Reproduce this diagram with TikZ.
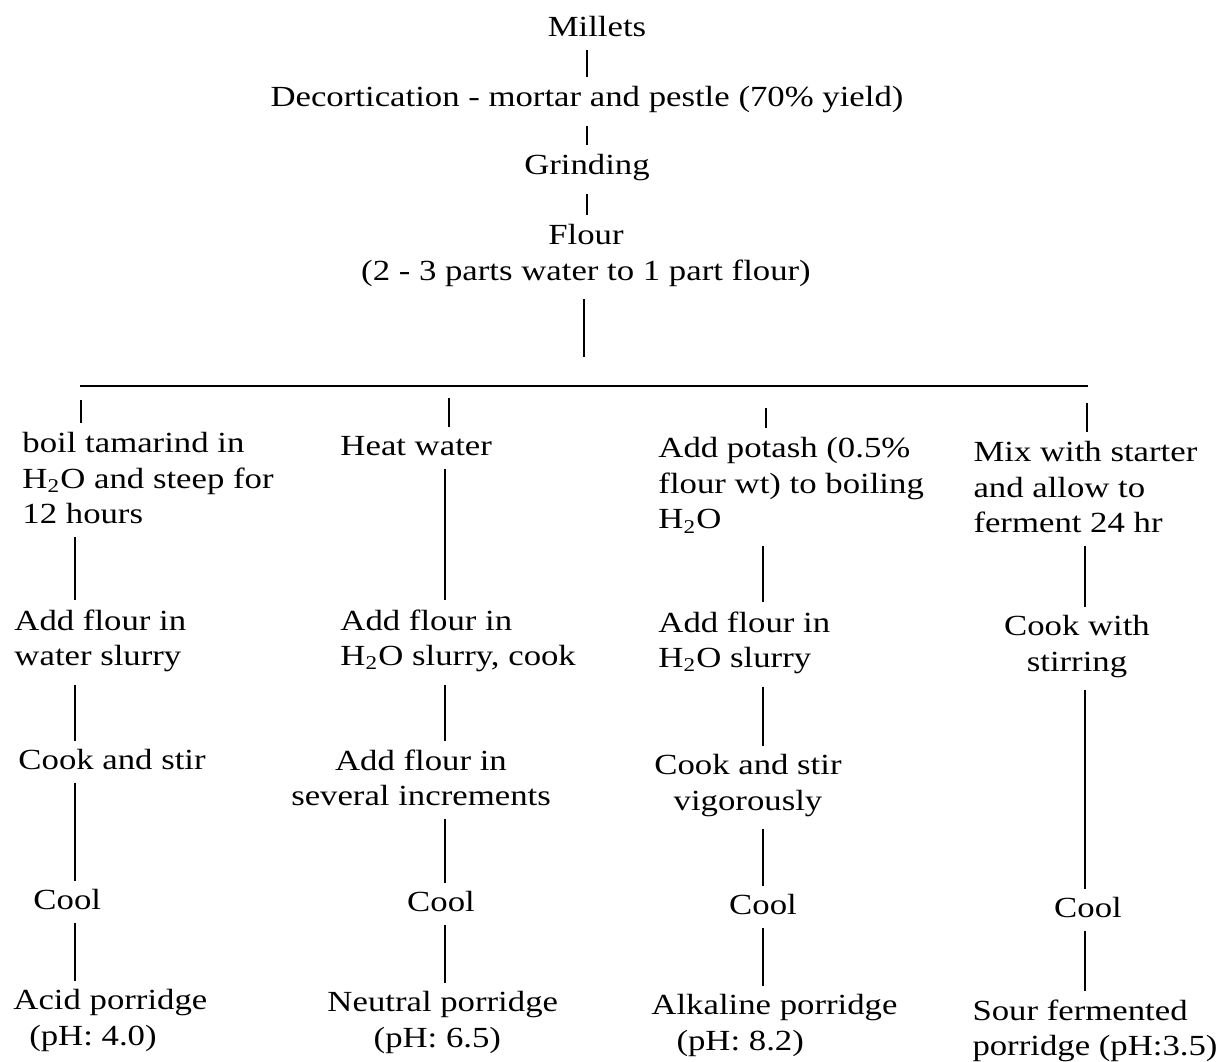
\documentclass[tikz,border=0pt]{standalone}
\usepackage{fontspec}
\setmainfont[FakeStretch=1.19]{Liberation Serif}
\newcommand{\hto}{H\textsubscript{2}O}

\begin{document}
\begin{tikzpicture}[x=0.411pt,y=-0.411pt,
  txt/.style={inner sep=0pt, font=\fontsize{12}{14.6}\selectfont},
  link/.style={line width=0.8pt, shorten <=5pt, shorten >=3.5pt}]
  \useasboundingbox (0,0) rectangle (1221,1061);

  % Column axes
  \coordinate (trunk) at (587,0);
  \coordinate (ax1) at (75,0);
  \coordinate (ax2) at (445,0);
  \coordinate (ax3) at (763,0);
  \coordinate (ax4) at (1085,0);

  % Main trunk
  \node[txt, anchor=north] (millets) at (597,16) {Millets};
  \node[txt, anchor=north] (decort) at (587,86) {Decortication - mortar and pestle (70\% yield)};
  \node[txt, anchor=north] (grind) at (587,154) {Grinding};
  \node[txt, anchor=north, align=center] (flour) at (586,224) {Flour\\(2 - 3 parts water to 1 part flour)};

  \draw[link] (millets.south -| trunk) -- (decort.north -| trunk);
  \draw[link] (decort.south -| trunk) -- (grind.north -| trunk);
  \draw[link] (grind.south -| trunk) -- (flour.north -| trunk);

  % Fork into four branches
  \coordinate (fork) at (584,357);
  \draw[link, shorten >=0pt] (flour.south -| fork) -- (fork);
  \coordinate (bl) at (80,386);
  \coordinate (br) at (1088,386);
  \draw[line width=0.8pt] (bl) -- (br);
  \coordinate (d1) at (81,400);
  \coordinate (d2) at (449,398);
  \coordinate (d3) at (766,408);
  \coordinate (d4) at (1087,403);

  % Branch 1: acid porridge
  \node[txt, anchor=north west, align=left] (t1) at (22,432) {boil tamarind in\\\hto{} and steep for\\12 hours};
  \node[txt, anchor=north west, align=left] (a1) at (14,609) {Add flour in\\water slurry};
  \node[txt, anchor=north west] (c1) at (18,749) {Cook and stir};
  \node[txt, anchor=north west] (k1) at (33,889) {Cool};
  \node[txt, anchor=north west, align=left] (p1) at (13,989) {Acid porridge\\\hspace*{6.5pt}(pH: 4.0)};

  \draw[link, shorten <=0pt] (d1) -- (t1.north -| d1);
  \draw[link] (t1.south -| ax1) -- (a1.north -| ax1);
  \draw[link] (a1.south -| ax1) -- (c1.north -| ax1);
  \draw[link] (c1.south -| ax1) -- (k1.north -| ax1);
  \draw[link] (k1.south -| ax1) -- (p1.north -| ax1);

  % Branch 2: neutral porridge
  \node[txt, anchor=north west] (t2) at (340,436) {Heat water};
  \node[txt, anchor=north west, align=left] (a2) at (340,609) {Add flour in\\\hto{} slurry, cook};
  \node[txt, anchor=north, align=center] (b2) at (421,749) {Add flour in\\several increments};
  \node[txt, anchor=north] (k2) at (441,891) {Cool};
  \node[txt, anchor=north west, align=left] (p2) at (327,991) {Neutral porridge\\\hspace*{19pt}(pH: 6.5)};

  \draw[link, shorten <=0pt] (d2) -- (t2.north -| d2);
  \draw[link] (t2.south -| ax2) -- (a2.north -| ax2);
  \draw[link] (a2.south -| ax2) -- (b2.north -| ax2);
  \draw[link] (b2.south -| ax2) -- (k2.north -| ax2);
  \draw[link] (k2.south -| ax2) -- (p2.north -| ax2);

  % Branch 3: alkaline porridge
  \node[txt, anchor=north west, align=left] (t3) at (658,437) {Add potash (0.5\%\\flour wt) to boiling\\\hto};
  \node[txt, anchor=north west, align=left] (a3) at (658,611) {Add flour in\\\hto{} slurry};
  \node[txt, anchor=north, align=center] (c3) at (748,754) {Cook and stir\\vigorously};
  \node[txt, anchor=north] (k3) at (763,894) {Cool};
  \node[txt, anchor=north west, align=left] (p3) at (651,994) {Alkaline porridge\\\hspace*{10.3pt}(pH: 8.2)};

  \draw[link, shorten <=0pt] (d3) -- (t3.north -| d3);
  \draw[link] (t3.south -| ax3) -- (a3.north -| ax3);
  \draw[link] (a3.south -| ax3) -- (c3.north -| ax3);
  \draw[link] (c3.south -| ax3) -- (k3.north -| ax3);
  \draw[link] (k3.south -| ax3) -- (p3.north -| ax3);

  % Branch 4: sour fermented porridge
  \node[txt, anchor=north west, align=left] (t4) at (973,441) {Mix with starter\\and allow to\\ferment 24 hr};
  \node[txt, anchor=north, align=center] (c4) at (1077,615) {Cook with\\stirring};
  \node[txt, anchor=north] (k4) at (1088,897) {Cool};
  \node[txt, anchor=north west, align=left] (p4) at (972,999) {Sour fermented\\porridge (pH:3.5)};

  \draw[link, shorten <=0pt] (d4) -- (t4.north -| d4);
  \draw[link] (t4.south -| ax4) -- (c4.north -| ax4);
  \draw[link] (c4.south -| ax4) -- (k4.north -| ax4);
  \draw[link] (k4.south -| ax4) -- (p4.north -| ax4);
\end{tikzpicture}
\end{document}
